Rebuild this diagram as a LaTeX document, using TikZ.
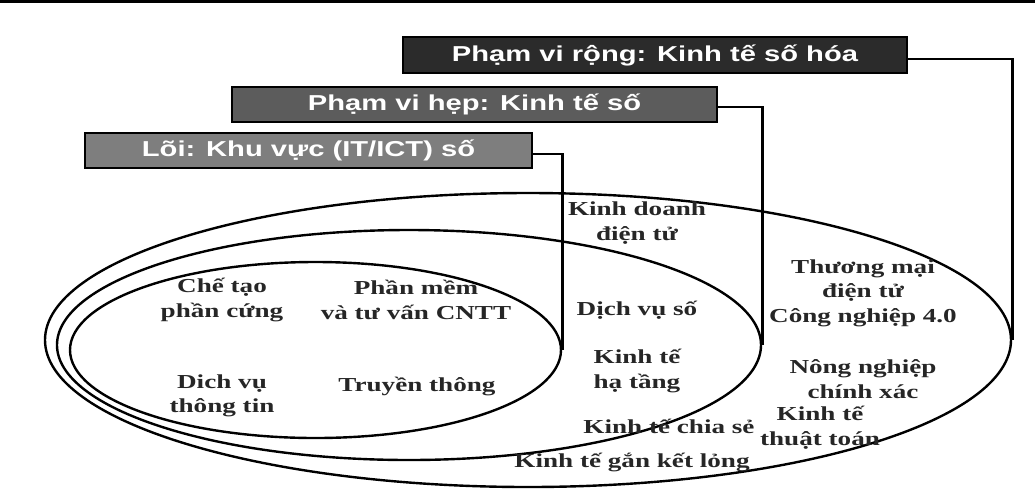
\documentclass[tikz,border=0pt]{standalone}
\usepackage{fontspec}
\setmainfont[FakeStretch=1.37]{Liberation Serif}
\newfontfamily\boxfont[FakeStretch=1.35]{Liberation Sans}
\usetikzlibrary{shapes.geometric}
\definecolor{boxA}{HTML}{2B2B2B}
\definecolor{boxB}{HTML}{5C5C5C}
\definecolor{boxC}{HTML}{7E7E7E}
\begin{document}
\begin{tikzpicture}[x=0.5pt,y=-0.5pt,
  lbl/.style={font=\fontsize{9.9}{12.3}\selectfont\bfseries, align=center, inner sep=0pt, text=black!85},
  boxlbl/.style={font=\boxfont\fontsize{10.8}{12}\selectfont\bfseries, text=white, inner sep=0pt, draw=black, line width=0.6pt},
  ell/.style={ellipse, draw, line width=1.2pt, inner sep=0pt},
  conn/.style={line width=1.4pt}]
\useasboundingbox (0,0) rectangle (1035,500);
\fill[black] (0,0) rectangle (1035,3);
% ellipses
\node[ell, minimum width=483pt, minimum height=147pt] (outer) at (528,340) {};
\node[ell, minimum width=352pt, minimum height=115pt] (middle) at (409,345) {};
\node[ell, minimum width=245.5pt, minimum height=88pt] (inner) at (315.5,350) {};
% boxes
\node[boxlbl, fill=boxA, minimum width=252pt, minimum height=18pt] (b1) at (655,55) {Phạm vi rộng: Kinh tế số hóa};
\node[boxlbl, fill=boxB, minimum width=242.5pt, minimum height=17.5pt] (b2) at (474.5,104.5) {Phạm vi hẹp: Kinh tế số};
\node[boxlbl, fill=boxC, minimum width=223.5pt, minimum height=17.5pt] (b3) at (308.5,150.5) {Lõi: Khu vực (IT/ICT) số};
% connectors
\draw[conn] ([yshift=-2pt]b1.east) -| (outer.east);
\draw[conn] ([yshift=-1.25pt]b2.east) -| (middle.east);
\draw[conn] ([yshift=-1.75pt]b3.east) -| (inner.east);
% inner texts
\node[lbl] (t1) at (222,300) {Chế tạo\\phần cứng};
\node[lbl] (t2) at (416,300) {Phần mềm\\và tư vấn CNTT};
\node[lbl] (t3) at (222,396) {Dich vụ\\thông tin};
\node[lbl] (t4) at (417,386) {Truyền thông};
% middle texts
\node[lbl] (t5) at (637,223) {Kinh doanh\\điện tử};
\node[lbl] (t6) at (637,310) {Dịch vụ số};
\node[lbl] (t7) at (637,371) {Kinh tế\\hạ tầng};
\node[lbl] (t8) at (669,426) {Kinh tế chia sẻ};
\node[lbl] (t9) at (632,462) {Kinh tế gắn kết lỏng};
% outer texts
\node[lbl] (t10) at (863,293) {Thương mại\\điện tử\\Công nghiệp 4.0};
\node[lbl] (t11) at (863,379) {Nông nghiệp\\chính xác};
\node[lbl] (t12) at (820,428) {Kinh tế\\thuật toán};
\end{tikzpicture}
\end{document}
